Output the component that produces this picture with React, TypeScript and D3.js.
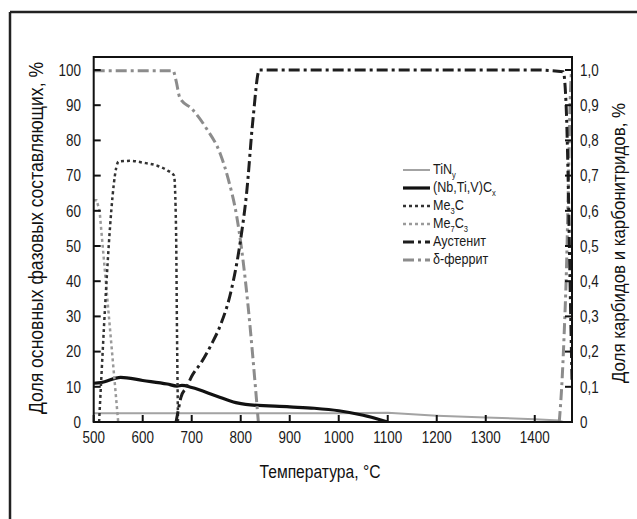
import React from 'react';
import * as d3 from 'd3';

// temperature axis
const xTicks = [500, 600, 700, 800, 900, 1000, 1100, 1200, 1300, 1400];
const leftTicks = [0, 10, 20, 30, 40, 50, 60, 70, 80, 90, 100];
const rightTicks = [0, 0.1, 0.2, 0.3, 0.4, 0.5, 0.6, 0.7, 0.8, 0.9, 1.0];
const rightTickLabels = ['0', '0,1', '0,2', '0,3', '0,4', '0,5', '0,6', '0,7', '0,8', '0,9', '1,0'];

// carbides, right axis (%)
const tinT = [500, 800, 1000, 1100, 1200, 1300, 1400, 1450, 1458];
const tinV = [0.025, 0.025, 0.025, 0.026, 0.018, 0.013, 0.008, 0.004, 0.0];

const nbT = [500, 515, 555, 600, 650, 670, 680, 700, 750, 790, 810, 900, 950, 1000, 1050, 1100];
const nbV = [0.11, 0.112, 0.127, 0.118, 0.108, 0.102, 0.104, 0.098, 0.074, 0.055, 0.05, 0.043, 0.039, 0.032, 0.019, 0.0];

const me3cT = [511, 551, 575, 600, 630, 650, 664, 668, 670, 672];
const me3cV = [0.0, 0.74, 0.742, 0.737, 0.728, 0.715, 0.7, 0.55, 0.25, 0.0];

const me7c3T = [500, 506, 512, 550];
const me7c3V = [0.63, 0.63, 0.6, 0.0];

// main phases, left axis (%)
const austT = [668, 672, 678, 690, 700, 720, 740, 760, 780, 800, 812, 825, 838, 1000, 1200, 1400, 1458, 1464, 1468, 1472, 1476];
const austV = [0, 3, 7, 10, 13, 17, 22, 28, 37, 52, 65, 86, 100, 100, 100, 100, 99.5, 90, 70, 40, 12];

const ferrT = [500, 600, 662, 668, 676, 700, 730, 758, 775, 792, 802, 815, 825, 836];
const ferrV = [99.8, 99.8, 99.8, 97, 92, 89, 83.4, 76.3, 68.8, 58.3, 48.9, 33, 18, 0];

const ferr2T = [1450, 1455, 1460, 1465, 1469, 1472, 1475];
const ferr2V = [0, 10, 25, 45, 70, 90, 100];

const legendNames = ['TiN', '(Nb,Ti,V)C', 'Me3C', 'Me7C3', 'Аустенит', 'δ-феррит'];

const FONT = "'Liberation Sans', Arial, sans-serif";
const SQ = 0.84; // horizontal squeeze to mimic a narrow face

const styles = [
  { stroke: '#a3a3a3', width: 2, dash: null },
  { stroke: '#111', width: 3.2, dash: null },
  { stroke: '#333', width: 2.5, dash: '3 3' },
  { stroke: '#9a9a9a', width: 2.5, dash: '3 3' },
  { stroke: '#1e1e1e', width: 3, dash: '11 4 3 4' },
  { stroke: '#8c8c8c', width: 3, dash: '11 4 3 4' },
];

const NText = ({ x, y, anchor = 'start', size = 16, dy, children }: any) => (
  <text transform={`translate(${x},${y}) scale(${SQ},1)`} textAnchor={anchor} fontSize={size} dy={dy} fill="#1a1a1a">
    {children}
  </text>
);

const App = () => {
  const x = d3.scaleLinear().domain([500, 1476]).range([93.7, 572]);
  const yL = d3.scaleLinear().domain([0, 100]).range([422, 70]);
  const yR = d3.scaleLinear().domain([0, 1]).range([422, 70]);
  const top = 57;

  const mk = (ts: number[], vs: number[], sc: any, smooth = false) => {
    const g = d3.line<number>().x((t) => x(t)).y((_, i) => sc(vs[i]));
    if (smooth) g.curve(d3.curveMonotoneX);
    return g(ts) || '';
  };

  const series = [
    mk(tinT, tinV, yR),
    mk(nbT, nbV, yR, true),
    mk(me3cT, me3cV, yR, true),
    mk(me7c3T, me7c3V, yR),
    mk(austT, austV, yL, true),
  ];
  const ferrPaths = [mk(ferrT, ferrV, yL, true), mk(ferr2T, ferr2V, yL, true)];
  const drawOrder = [0, 1, 3, 2];

  const legendY = (i: number) => 174 + i * 18;

  return (
    <svg width={637} height={519} style={{ position: 'absolute', left: 0, top: 0, background: '#fff' }} fontFamily={FONT}>
      <rect x={0} y={0} width={637} height={519} fill="#fff" />
      {/* outer frame */}
      <line x1={10} y1={12} x2={10} y2={519} stroke="#222" strokeWidth={2.5} />
      <line x1={10} y1={12} x2={637} y2={12} stroke="#222" strokeWidth={2.5} />

      <defs>
        <clipPath id="plot">
          <rect x={x(500)} y={top} width={x(1476) - x(500)} height={422 - top} />
        </clipPath>
      </defs>

      <g clipPath="url(#plot)" fill="none">
        {drawOrder.map((k) => (
          <path key={k} d={series[k]} stroke={styles[k].stroke} strokeWidth={styles[k].width}
            strokeDasharray={styles[k].dash || undefined} strokeLinejoin="round" />
        ))}
        {ferrPaths.map((d, i) => (
          <path key={'f' + i} d={d} stroke={styles[5].stroke} strokeWidth={styles[5].width} strokeDasharray={styles[5].dash} />
        ))}
        <path d={series[4]} stroke={styles[4].stroke} strokeWidth={styles[4].width} strokeDasharray={styles[4].dash} />
      </g>

      {/* plot box */}
      <rect x={x(500)} y={top} width={x(1476) - x(500)} height={422 - top} fill="none" stroke="#111" strokeWidth={2} />

      {/* bottom ticks */}
      {xTicks.map((t) => (
        <g key={t}>
          <line x1={x(t)} x2={x(t)} y1={422} y2={415} stroke="#111" strokeWidth={2} />
          <NText x={x(t)} y={443} anchor="middle">{t}</NText>
        </g>
      ))}
      {/* left ticks */}
      {leftTicks.map((v) => (
        <g key={v}>
          <line x1={x(500)} x2={x(500) + 7} y1={yL(v)} y2={yL(v)} stroke="#111" strokeWidth={2} />
          <NText x={81} y={yL(v)} dy="0.36em" anchor="end">{v}</NText>
        </g>
      ))}
      {/* right ticks */}
      {rightTicks.map((v, i) => (
        <g key={v}>
          <line x1={x(1476) - 7} x2={x(1476)} y1={yR(v)} y2={yR(v)} stroke="#111" strokeWidth={2} />
          <NText x={580} y={yR(v)} dy="0.36em">{rightTickLabels[i]}</NText>
        </g>
      ))}

      {/* axis titles */}
      <text transform="translate(43,238) rotate(-90)" textAnchor="middle" fontSize={20} fill="#111"
        textLength={352} lengthAdjust="spacingAndGlyphs">Доля основных фазовых составляющих, %</text>
      <text transform="translate(625,243) rotate(-90)" textAnchor="middle" fontSize={19} fill="#111"
        textLength={280} lengthAdjust="spacingAndGlyphs">Доля карбидов и карбонитридов, %</text>
      <text x={320} y={478} textAnchor="middle" fontSize={18} fill="#111" textLength={121}
        lengthAdjust="spacingAndGlyphs">Температура, °C</text>

      {/* legend */}
      {legendNames.map((name, i) => {
        const st = styles[i];
        const ly = legendY(i);
        return (
          <g key={name}>
            <line x1={403} x2={430} y1={ly - 4} y2={ly - 4} stroke={st.stroke} strokeWidth={st.width}
              strokeDasharray={st.dash || undefined} />
            <NText x={433} y={ly} size={15}>
              {i === 0 && (<>TiN<tspan fontSize={9} dy={4}>y</tspan></>)}
              {i === 1 && (<>(Nb,Ti,V)C<tspan fontSize={9} dy={4}>x</tspan></>)}
              {i === 2 && (<>Me<tspan fontSize={9} dy={4}>3</tspan><tspan dy={-4}>C</tspan></>)}
              {i === 3 && (<>Me<tspan fontSize={9} dy={4}>7</tspan><tspan dy={-4}>C</tspan><tspan fontSize={9} dy={4}>3</tspan></>)}
              {i >= 4 && name}
            </NText>
          </g>
        );
      })}
    </svg>
  );
};

export default App;
